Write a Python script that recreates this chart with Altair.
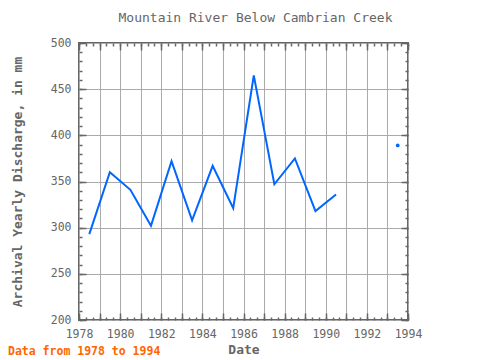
import altair as alt
import pandas as pd

title = "Mountain River Below Cambrian Creek"
note = "Data from 1978 to 1994"
years = [1978.5, 1979.5, 1980.5, 1981.5, 1982.5, 1983.5, 1984.5, 1985.5,
         1986.5, 1987.5, 1988.5, 1989.5, 1990.5, 1991.5, 1992.5, 1993.5]
values = [293, 360, 341, 302, 372, 308, 367, 321,
          465, 347, 375, 318, 336, None, None, 389]
segments = [1] * 13 + [0, 0, 2]

x_labels = list(range(1978, 1995, 2))
x_grid = list(range(1978, 1995))
x_minor = [1978 + i / 3 for i in range(49)]
y_labels = list(range(200, 501, 50))
y_minor = list(range(200, 501, 10))

df = pd.DataFrame({"year": years, "value": values, "seg": segments})
df = df.dropna()

W, H = 329, 277
FONT = "DejaVu Sans Mono"
GRAY = "#666666"

xs = alt.Scale(domain=[1978, 1994], nice=False, zero=False)
ys = alt.Scale(domain=[200, 500], nice=False, zero=False)

base = alt.Chart(df)


def tick_axis(orient, vals, size, **kw):
    return alt.Axis(orient=orient, values=vals, tickSize=size, offset=-size,
                    labels=False, domain=False, grid=False, title=None,
                    tickColor=GRAY, tickWidth=1.5, **kw)


grid = base.mark_point(opacity=0).encode(
    x=alt.X("year:Q", scale=xs, axis=alt.Axis(values=x_grid, grid=True, labels=False,
                                               ticks=False, domain=False, title=None,
                                               gridColor="#aaaaaa", gridWidth=1)),
    y=alt.Y("value:Q", scale=ys, axis=alt.Axis(values=y_labels, grid=True, labels=False,
                                                ticks=False, domain=False, title=None,
                                                gridColor="#aaaaaa", gridWidth=1)),
)

line = base.mark_line(color="#0066ff", strokeWidth=2).encode(
    x=alt.X("year:Q", scale=xs, axis=alt.Axis(orient="bottom", values=x_labels, ticks=False,
                                               domain=False, grid=False, title="Date",
                                               format="d", labelPadding=8, titlePadding=4,
                                               labelOverlap=False, labelFlush=False)),
    y=alt.Y("value:Q", scale=ys, axis=alt.Axis(orient="left", values=y_labels, ticks=False,
                                                domain=False, grid=False, format="d",
                                                title="Archival Yearly Discharge, in mm",
                                                labelPadding=8, titlePadding=26,
                                                labelOverlap=False, labelFlush=False)),
    detail="seg:N",
)

pts = base.mark_circle(color="#0066ff", size=14, opacity=1).encode(
    x=alt.X("year:Q", scale=xs, axis=None),
    y=alt.Y("value:Q", scale=ys, axis=None),
).transform_filter(alt.datum.seg == 2)

minor_bl = base.mark_point(opacity=0).encode(
    x=alt.X("year:Q", scale=xs, axis=tick_axis("bottom", x_minor, 3)),
    y=alt.Y("value:Q", scale=ys, axis=tick_axis("left", y_minor, 3)),
)
minor_tr = base.mark_point(opacity=0).encode(
    x=alt.X("year:Q", scale=xs, axis=tick_axis("top", x_minor, 3)),
    y=alt.Y("value:Q", scale=ys, axis=tick_axis("right", y_minor, 3)),
)
major_bl = base.mark_point(opacity=0).encode(
    x=alt.X("year:Q", scale=xs, axis=tick_axis("bottom", x_grid, 7)),
    y=alt.Y("value:Q", scale=ys, axis=tick_axis("left", y_labels, 7)),
)
major_tr = base.mark_point(opacity=0).encode(
    x=alt.X("year:Q", scale=xs, axis=tick_axis("top", x_grid, 7)),
    y=alt.Y("value:Q", scale=ys, axis=tick_axis("right", y_labels, 7)),
)

foot = alt.Chart(pd.DataFrame({"note": [note]})).mark_text(
    align="left", baseline="middle", font=FONT, fontSize=11.5, fontWeight="bold",
    color="#ff6600"
).encode(x=alt.value(-71), y=alt.value(309), text="note:N")

chart = alt.layer(grid, minor_bl, minor_tr, major_bl, major_tr, line, pts, foot).resolve_axis(
    x="independent", y="independent"
).properties(
    width=W, height=H,
    title=alt.Title(title, fontSize=13, font=FONT, color=GRAY, fontWeight="normal",
                    offset=12, dx=12),
    autosize=alt.AutoSizeParams(type="none"),
    padding={"left": 71, "top": 35, "right": 60, "bottom": 40},
).configure_view(
    stroke=GRAY, strokeWidth=2
).configure_axis(
    labelFont=FONT, titleFont=FONT, labelColor=GRAY, titleColor=GRAY,
    labelFontSize=11.5, titleFontSize=13, titleFontWeight="bold", labelFontWeight="normal"
)

chart.save("out.html", embed_options={"renderer": "svg", "actions": False})
